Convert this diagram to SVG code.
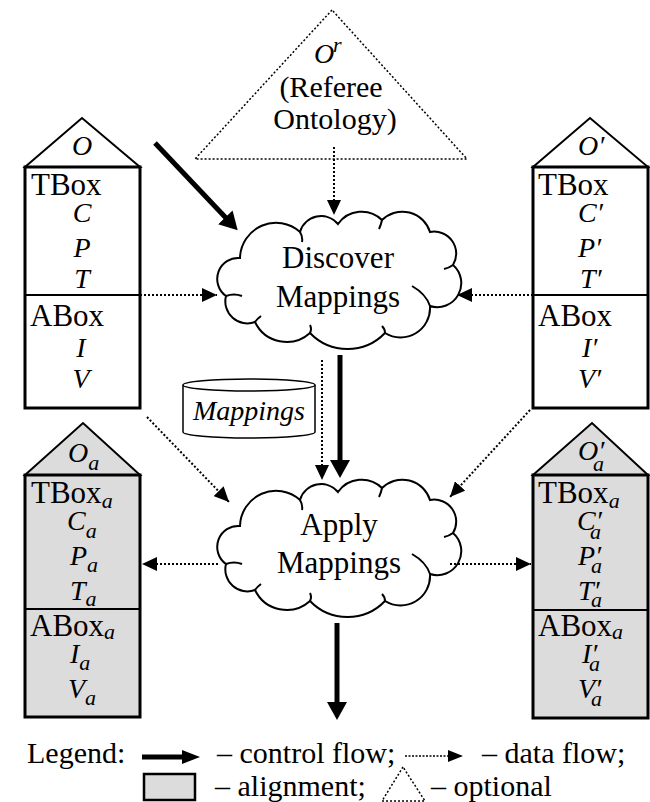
<svg xmlns="http://www.w3.org/2000/svg" xmlns:xlink="http://www.w3.org/1999/xlink" width="650" height="802" viewBox="0 0 650 802">
<style>
.bx{fill:#fff;stroke:#000;stroke-width:3}
.gbx{fill:#dcdcdc;stroke:#000;stroke-width:3}
.roof{fill:#fff;stroke:#000;stroke-width:2}
.groof{fill:#dcdcdc;stroke:#000;stroke-width:2}
.dv{stroke:#000;stroke-width:2}
.t{font-size:31px;fill:#000}
.i{font-style:italic;font-size:28px}
.s{font-style:italic;font-size:22px}
.lg{font-size:30px}
.data{stroke:#000;stroke-width:2;stroke-dasharray:2 2;fill:none;marker-end:url(#dh)}
.ctl{stroke:#000;stroke-width:5;fill:none;marker-end:url(#ch)}
.cloud{fill:#fff;stroke:#000;stroke-width:2}
.inner{fill:none;stroke:#000;stroke-width:2}
.dot{fill:none;stroke:#000;stroke-width:1.5;stroke-dasharray:2 2}
</style>
<defs>
<marker id="dh" markerUnits="userSpaceOnUse" markerWidth="15" markerHeight="14" viewBox="0 0 15 14" refX="15" refY="7" orient="auto">
<path d="M0,0 L15,7 L0,14 z" fill="#000"/>
</marker>
<marker id="ch" markerUnits="userSpaceOnUse" markerWidth="18" markerHeight="20" viewBox="0 0 18 20" refX="1" refY="10" orient="auto">
<path d="M0,0 L18,10 L0,20 z" fill="#000"/>
</marker>
<g id="cloudshape">
<path class="cloud" d="M226,296 A21,21 0 0 1 240,258 A36,36 0 0 1 300,232 A22,22 0 0 1 338,224 A29,29 0 0 1 382,220 A29,29 0 0 1 430,232 A22,22 0 0 1 453,265 A24,24 0 0 1 430,306 A29.5,29.5 0 0 1 385,333 A52,52 0 0 1 310,333 A35,35 0 0 1 255,322 A22,22 0 0 1 226,296 Z"/>
<path class="inner" d="M226,296 q8,-3 16,0 M300,232 q3,5 2,10 M382,220 q-1,5 -3,9 M453,265 q-4,3 -9,4 M430,306 q-4,-12 -18,-20 M385,333 q0,-4 -3,-7 M310,333 q2,-4 0,-8 M255,322 q2,-3 6,-6"/>
</g>
</defs>

<g font-family="Liberation Serif, Tinos, Times New Roman, serif">

<g id="referee">
<polygon class="dot" points="332,10 195,159 467,159"/>
<text class="t i" x="314" y="63">O<tspan class="s" x="333" y="52">r</tspan></text>
<text class="t lg" x="331" y="97" text-anchor="middle">(Referee</text>
<text class="t lg" x="335" y="129" text-anchor="middle">Ontology)</text>
</g>

<g id="O">
<polygon class="roof" points="25,167 82,118 140,167"/>
<rect class="bx" x="25" y="167" width="115" height="241"/>
<line class="dv" x1="25" y1="295" x2="140" y2="295"/>
<text class="t i" x="82" y="155" text-anchor="middle">O</text>
<text class="t" x="31" y="195">TBox</text>
<text class="t i" x="82" y="222" text-anchor="middle">C</text>
<text class="t i" x="82" y="257" text-anchor="middle">P</text>
<text class="t i" x="82" y="288" text-anchor="middle">T</text>
<text class="t" x="30" y="326">ABox</text>
<text class="t i" x="81" y="357" text-anchor="middle">I</text>
<text class="t i" x="81" y="388" text-anchor="middle">V</text>
</g>

<g id="Oprime">
<polygon class="roof" points="533,167 590,118 648,167"/>
<rect class="bx" x="533" y="167" width="115" height="241"/>
<line class="dv" x1="533" y1="295" x2="648" y2="295"/>
<text class="t i" x="578" y="155">O′</text>
<text class="t" x="538" y="195">TBox</text>
<text class="t i" x="578" y="222">C′</text>
<text class="t i" x="578" y="257">P′</text>
<text class="t i" x="580" y="288">T′</text>
<text class="t" x="538" y="326">ABox</text>
<text class="t i" x="582" y="357">I′</text>
<text class="t i" x="578" y="388">V′</text>
</g>

<g id="discover">
<use xlink:href="#cloudshape" href="#cloudshape"/>
<text class="t" x="338" y="268" font-size="32" text-anchor="middle">Discover</text>
<text class="t" x="338" y="307" font-size="32" text-anchor="middle">Mappings</text>
</g>

<g id="mappingsdb">
<path d="M183,385 V432 A66,6 0 0 0 315,432 V385" fill="#fff" stroke="#000" stroke-width="1.5"/>
<ellipse cx="249" cy="385" rx="66" ry="6" fill="#fff" stroke="#000" stroke-width="1.5"/>
<text class="t i" x="249" y="420" font-size="27" text-anchor="middle">Mappings</text>
</g>

<g id="apply">
<use xlink:href="#cloudshape" href="#cloudshape" y="268"/>
<text class="t" x="339" y="535" font-size="32" text-anchor="middle">Apply</text>
<text class="t" x="339" y="573" font-size="32" text-anchor="middle">Mappings</text>
</g>

<g id="Oa">
<polygon class="groof" points="25,475 83,423 140,475"/>
<rect class="gbx" x="25" y="475" width="115" height="242"/>
<line class="dv" x1="25" y1="609" x2="140" y2="609"/>
<text class="t i" x="68" y="462">O<tspan font-size="22" dy="8">a</tspan></text>
<text class="t" x="31" y="503">TBox<tspan class="s" dy="5">a</tspan></text>
<text class="t i" x="67" y="530">C<tspan font-size="22" dy="8">a</tspan></text>
<text class="t i" x="70" y="565">P<tspan font-size="22" dy="7">a</tspan></text>
<text class="t i" x="70" y="600">T<tspan font-size="22" dy="6">a</tspan></text>
<text class="t" x="30" y="636">ABox<tspan class="s" dy="3">a</tspan></text>
<text class="t i" x="70" y="663">I<tspan font-size="22" dy="7">a</tspan></text>
<text class="t i" x="68" y="698">V<tspan font-size="22" dy="7">a</tspan></text>
</g>

<g id="Oprimea">
<polygon class="groof" points="533,475 592,423 648,475"/>
<rect class="gbx" x="533" y="475" width="115" height="243"/>
<line class="dv" x1="533" y1="610" x2="648" y2="610"/>
<text class="t i" x="578" y="460">O′<tspan font-size="22" x="593" y="471">a</tspan></text>
<text class="t" x="538" y="503">TBox<tspan class="s" dy="5">a</tspan></text>
<text class="t i" x="577" y="530">C′<tspan font-size="22" x="590" y="539">a</tspan></text>
<text class="t i" x="578" y="565">P′<tspan font-size="22" x="591" y="573">a</tspan></text>
<text class="t i" x="578" y="600">T′<tspan font-size="22" x="591" y="607">a</tspan></text>
<text class="t" x="538" y="636">ABox<tspan class="s" dy="3">a</tspan></text>
<text class="t i" x="582" y="663">I′<tspan font-size="22" x="589" y="671">a</tspan></text>
<text class="t i" x="578" y="698">V′<tspan font-size="22" x="591" y="706">a</tspan></text>
</g>

<g id="connectors">
<line class="ctl" x1="155" y1="143" x2="226" y2="218"/>
<line class="data" x1="334" y1="147" x2="334" y2="215"/>
<line class="data" x1="140" y1="295" x2="217" y2="295"/>
<line class="data" x1="533" y1="295" x2="457" y2="295"/>
<line class="data" x1="322" y1="360" x2="322" y2="480"/>
<line class="ctl" x1="340" y1="355" x2="340" y2="461"/>
<line class="data" x1="147" y1="417" x2="229" y2="502"/>
<line class="data" x1="530" y1="410" x2="450" y2="497"/>
<line class="data" x1="218" y1="564" x2="142" y2="564"/>
<line class="data" x1="450" y1="564" x2="531" y2="564"/>
<line class="ctl" x1="337" y1="623" x2="337" y2="703"/>
</g>

<g id="legend">
<text class="t lg" x="27" y="763">Legend:</text>
<line x1="142" y1="757" x2="184" y2="757" stroke="#000" stroke-width="5"/>
<polygon points="182,750 200,757 182,764" fill="#000"/>
<text class="t lg" x="217" y="763">– control flow;</text>
<line x1="405" y1="756" x2="450" y2="756" stroke="#000" stroke-width="1.5" stroke-dasharray="2 1.5"/>
<polygon points="448,750 463,756 448,762" fill="#000"/>
<text class="t lg" x="482" y="763">– data flow;</text>
<rect x="144" y="774" width="51" height="26" fill="#dcdcdc" stroke="#000" stroke-width="2.5"/>
<text class="t lg" x="215" y="796">– alignment;</text>
<polygon class="dot" points="403,767 382,801 425,801"/>
<text class="t lg" x="431" y="796">– optional</text>
</g>

</g>
</svg>
